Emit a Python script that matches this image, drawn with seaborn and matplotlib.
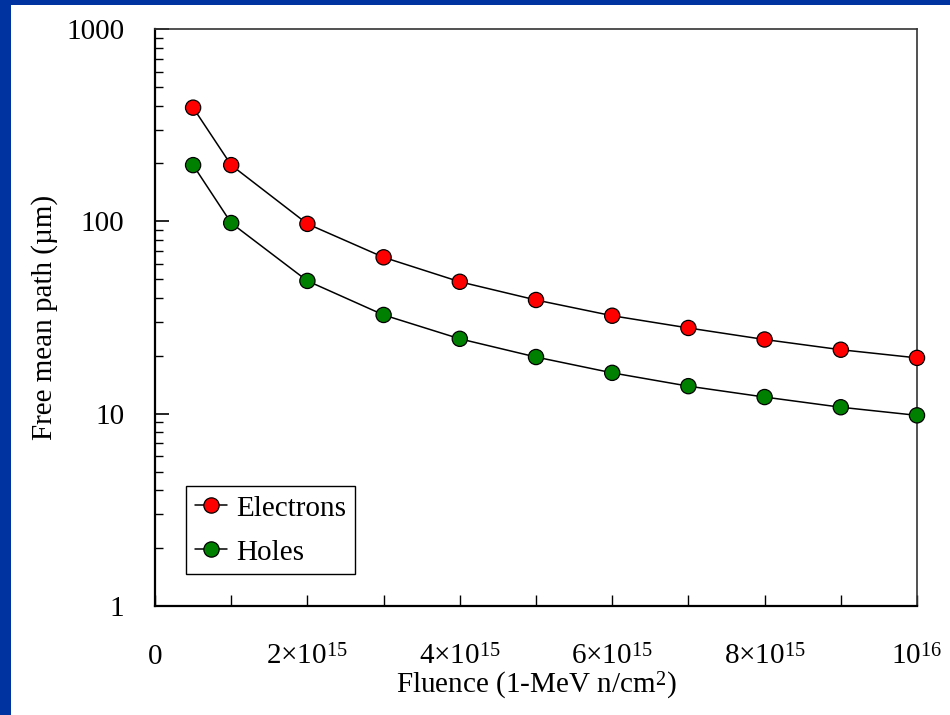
import numpy as np
import pandas as pd
import matplotlib
matplotlib.use("Agg")
import matplotlib.pyplot as plt
from matplotlib.lines import Line2D
from matplotlib.patches import Rectangle
from matplotlib.ticker import FixedLocator, LogLocator, NullFormatter, FixedFormatter
import seaborn as sns
try:
    import matplotlib._mathtext as _mt
    _mt.FontConstantsBase.sup1 = 0.45
except Exception:
    pass

fluence = [0.5e15, 1e15, 2e15, 3e15, 4e15, 5e15, 6e15, 7e15, 8e15, 9e15, 10e15]
electrons = [390, 196, 97, 65, 48.5, 39, 32.3, 27.9, 24.3, 21.5, 19.5]
holes = [196, 98, 49, 32.6, 24.5, 19.7, 16.3, 13.9, 12.2, 10.8, 9.8]
x_ticks = [0, 1e15, 2e15, 3e15, 4e15, 5e15, 6e15, 7e15, 8e15, 9e15, 1e16]
x_tick_labels = ["0", "", r"2×10$^{\mathregular{15}}$", "", r"4×10$^{\mathregular{15}}$", "",
                 r"6×10$^{\mathregular{15}}$", "", r"8×10$^{\mathregular{15}}$", "", r"10$^{\mathregular{16}}$"]
y_ticks = [1, 10, 100, 1000]
y_tick_labels = ["1", "10", "100", "1000"]
series_names = ["Electrons", "Holes"]
series_colors = {"Electrons": "#ff0000", "Holes": "#008000"}

df = pd.concat([
    pd.DataFrame({"Fluence": fluence, "Path": electrons, "Carrier": "Electrons"}),
    pd.DataFrame({"Fluence": fluence, "Path": holes, "Carrier": "Holes"}),
], ignore_index=True)

sns.set_theme(style="white")
plt.rcParams["font.family"] = ["Liberation Serif", "DejaVu Serif"]
plt.rcParams["mathtext.fontset"] = "custom"
plt.rcParams["mathtext.rm"] = "Liberation Serif"
plt.rcParams["text.color"] = "black"
plt.rcParams["axes.labelcolor"] = "black"

FS = 21

fig = plt.figure(figsize=(9.5, 7.15), dpi=100)
fig.patch.set_facecolor("white")
ax = fig.add_axes([155/950, 1-606/715, (917-155)/950, (606-29)/715])

sns.lineplot(data=df, x="Fluence", y="Path", units="Carrier", estimator=None,
             color="black", linewidth=1.1, ax=ax, legend=False, zorder=2)
sns.scatterplot(data=df, x="Fluence", y="Path", hue="Carrier", palette=series_colors,
                s=120, edgecolor="black", linewidth=0.9, ax=ax, legend=False, zorder=3,
                clip_on=False)

ax.set_yscale("log")
ax.set_xlim(0, 1e16)
ax.set_ylim(1, 1000)
ax.xaxis.set_major_locator(FixedLocator(x_ticks))
ax.xaxis.set_major_formatter(FixedFormatter(x_tick_labels))
ax.yaxis.set_major_locator(FixedLocator(y_ticks))
ax.yaxis.set_major_formatter(FixedFormatter(y_tick_labels))
ax.yaxis.set_minor_locator(LogLocator(base=10, subs=np.arange(2, 10)))
ax.yaxis.set_minor_formatter(NullFormatter())

ax.tick_params(axis="both", which="both", direction="in", colors="black", labelsize=FS,
               labelcolor="black")
ax.tick_params(axis="y", which="major", length=10, width=1.2, pad=22, left=True)
ax.tick_params(axis="y", which="minor", length=6, width=1.0, left=True)
ax.tick_params(axis="x", which="major", length=8, width=1.0, pad=27, bottom=True)

for side in ["left", "bottom"]:
    ax.spines[side].set_color("black")
    ax.spines[side].set_linewidth(1.6)
for side in ["right", "top"]:
    ax.spines[side].set_color("#333333")
    ax.spines[side].set_linewidth(1.2)

ax.set_xlabel("Fluence (1-MeV n/cm$^{\\mathregular{2}}$)", fontsize=FS, color="black", labelpad=0)
ax.set_ylabel("Free mean path (µm)", fontsize=FS, color="black")
ax.yaxis.set_label_coords((58 - 155) / 762, 0.5)

handles = [Line2D([], [], color="black", linewidth=1.1, marker="o", markersize=11,
                  markerfacecolor=series_colors[n], markeredgecolor="black", markeredgewidth=0.9)
           for n in series_names]
leg = ax.legend(handles, series_names, loc="lower left", bbox_to_anchor=(0.041, 0.055),
                fontsize=FS, frameon=True, fancybox=False, framealpha=1, edgecolor="black",
                handlelength=1.1, handletextpad=0.3, borderpad=0.3, labelspacing=0.6,
                borderaxespad=0)
leg.get_frame().set_linewidth(1.0)
for t in leg.get_texts():
    t.set_color("black")

fig.patches.append(Rectangle((0, 0), 11/950, 1, transform=fig.transFigure,
                             facecolor="#0033A0", edgecolor="none", zorder=10))
fig.patches.append(Rectangle((0, 1-5/715), 1, 5/715, transform=fig.transFigure,
                             facecolor="#0033A0", edgecolor="none", zorder=10))

fig.savefig("out.png", dpi=100, facecolor="white")
